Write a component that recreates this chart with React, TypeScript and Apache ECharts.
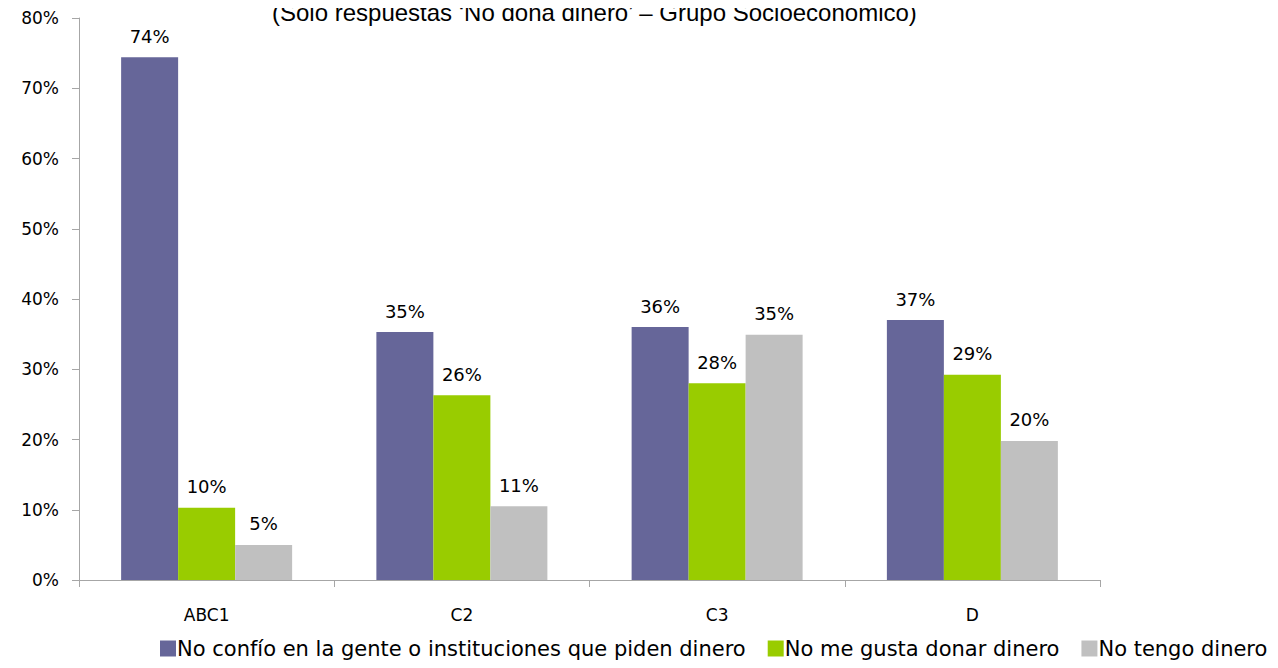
import React, { useEffect, useRef } from "react";
import * as echarts from "echarts";

const categories = ["ABC1", "C2", "C3", "D"];
const seriesNames = [
  "No confío en la gente o instituciones que piden dinero",
  "No me gusta donar dinero",
  "No tengo dinero",
];
const noConfio = [74.4, 35.3, 36.0, 37.0];
const noGusta = [10.3, 26.3, 28.0, 29.2];
const noTengo = [5.0, 10.5, 34.9, 19.8];
const colors = ["#666699", "#99CC00", "#C0C0C0"];
const yTicks = [0, 10, 20, 30, 40, 50, 60, 70, 80];
const title = "(Sólo respuestas ‘No dona dinero’ – Grupo Socioeconómico)";

export default function App() {
  const ref = useRef<HTMLDivElement>(null);
  useEffect(() => {
    const chart = echarts.init(ref.current!, null, { renderer: "svg" });
    const font = "DejaVu Sans";
    const values = [noConfio, noGusta, noTengo];
    chart.setOption({
      animation: false,
      graphic: [
        {
          type: "text",
          x: 272,
          y: 0,
          style: {
            text: title,
            font: '24px "Liberation Sans"',
            fill: "#000",
            verticalAlign: "top",
          },
        },
      ],
      legend: {
        left: 155,
        bottom: 4,
        itemWidth: 16,
        itemHeight: 16,
        itemGap: 22,
        icon: "rect",
        textStyle: { fontFamily: font, fontSize: 21, color: "#000", padding: [0, 0, 0, -4] },
        data: seriesNames,
      },
      grid: { left: 79, right: 178, top: 18, bottom: 88, containLabel: false },
      xAxis: {
        type: "category",
        data: categories,
        axisLine: { lineStyle: { color: "#A6A6A6", width: 1 } },
        axisTick: { show: true, length: 7, lineStyle: { color: "#A6A6A6" } },
        axisLabel: { fontFamily: font, fontSize: 17, color: "#000", margin: 26 },
      },
      yAxis: {
        type: "value",
        min: yTicks[0],
        max: yTicks[yTicks.length - 1],
        interval: 10,
        splitLine: { show: false },
        axisLine: { show: true, lineStyle: { color: "#A6A6A6" } },
        axisTick: { show: true, length: 7, lineStyle: { color: "#A6A6A6" } },
        axisLabel: {
          fontFamily: font,
          fontSize: 17,
          color: "#000",
          margin: 20,
          formatter: (v: number) => v + "%",
        },
      },
      series: seriesNames.map((name, i) => ({
        name,
        type: "bar",
        data: values[i],
        barWidth: 57,
        barGap: "0%",
        itemStyle: { color: colors[i] },
        label: {
          show: true,
          position: "top",
          distance: 12,
          fontFamily: font,
          fontSize: 18,
          color: "#000",
          formatter: (p: any) => Math.round(p.value) + "%",
        },
      })),
    });
    return () => chart.dispose();
  }, []);
  return <div ref={ref} style={{ width: 1278, height: 668, margin: -8 }} />;
}
